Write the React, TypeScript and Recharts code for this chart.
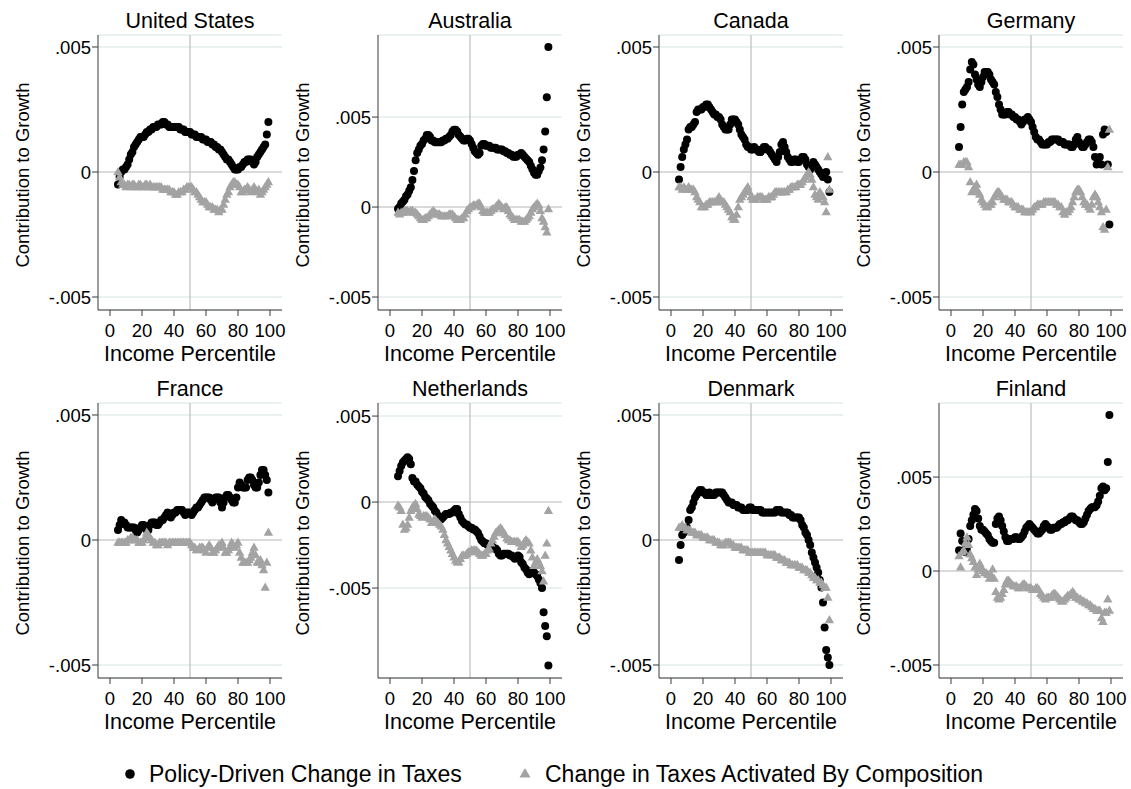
import React from 'react';
import { ScatterChart, Scatter, XAxis, YAxis, CartesianGrid, ReferenceLine } from 'recharts';

// Income percentiles (x values)
const percentiles = [
  5, 6, 7, 8, 9, 10, 11, 12, 13, 14, 15, 16, 17, 18, 19, 20, 21, 22, 23, 24,
  25, 26, 27, 28, 29, 30, 31, 32, 33, 34, 35, 36, 37, 38, 39, 40, 41, 42, 43, 44,
  45, 46, 47, 48, 49, 50, 51, 52, 53, 54, 55, 56, 57, 58, 59, 60, 61, 62, 63, 64,
  65, 66, 67, 68, 69, 70, 71, 72, 73, 74, 75, 76, 77, 78, 79, 80, 81, 82, 83, 84,
  85, 86, 87, 88, 89, 90, 91, 92, 93, 94, 95, 96, 97, 98, 99,
];

// All series values are in units of 0.0001 (contribution to growth)
const usPolicy = [
  -5, -2, 0, 1, 1, 2, 3, 5, 7, 8, 10, 11, 12, 13, 14, 14, 14, 15, 16, 16,
  17, 17, 18, 18, 18, 19, 19, 19, 20, 20, 19, 19, 18, 18, 18, 18, 18, 18, 18, 17,
  17, 17, 16, 16, 16, 16, 15, 15, 15, 14, 14, 14, 14, 13, 13, 13, 12, 12, 12, 11,
  11, 10, 10, 9, 9, 8, 7, 6, 5, 5, 4, 3, 2, 1, 1, 1, 2, 2, 3, 4,
  4, 5, 5, 5, 4, 3, 4, 6, 7, 8, 9, 10, 11, 15, 20,
];
const usComposition = [
  0, -2, -4, -5, -5, -6, -5, -5, -6, -5, -5, -6, -6, -5, -5, -6, -6, -5, -5, -6,
  -5, -6, -6, -6, -6, -6, -6, -6, -7, -7, -7, -7, -7, -8, -8, -8, -9, -9, -8, -8,
  -8, -7, -7, -6, -6, -6, -6, -7, -8, -8, -9, -10, -11, -12, -12, -12, -13, -14, -14, -14,
  -15, -15, -15, -16, -15, -15, -13, -11, -9, -8, -6, -5, -4, -4, -5, -5, -6, -8, -8, -7,
  -7, -6, -7, -8, -7, -6, -7, -8, -7, -9, -8, -7, -6, -5, -4,
];

const auPolicy = [
  -1, 0, 2, 3, 4, 6, 7, 9, 11, 15, 20, 26, 30, 32, 34, 35, 37, 38, 40, 40,
  39, 37, 37, 36, 36, 36, 36, 36, 37, 37, 38, 38, 39, 40, 42, 43, 43, 42, 40, 39,
  38, 37, 37, 38, 38, 37, 35, 33, 31, 30, 29, 30, 34, 35, 35, 34, 34, 34, 33, 33,
  33, 33, 32, 32, 32, 32, 31, 31, 30, 30, 29, 29, 28, 28, 28, 29, 29, 30, 29, 28,
  27, 26, 25, 23, 21, 19, 18, 18, 20, 22, 26, 32, 42, 61, 89,
];
const auComposition = [
  -3, -4, -3, -3, -2, -2, -2, -3, -2, -2, -3, -3, -4, -5, -6, -7, -7, -6, -6, -5,
  -4, -3, -2, -3, -4, -4, -4, -5, -5, -5, -5, -5, -4, -4, -4, -5, -6, -7, -7, -7,
  -6, -6, -4, -2, -1, 0, 0, 1, 1, 1, 2, 2, 0, -2, -3, -3, -3, -3, -2, -1,
  -1, 0, 1, 2, 1, 0, -1, 0, 0, -2, -4, -5, -6, -7, -7, -7, -7, -8, -8, -8,
  -7, -6, -5, -3, -1, 0, 1, 2, 1, -2, -6, -8, -11, -14, -1,
];

const caPolicy = [
  -3, 2, 6, 9, 11, 13, 17, 18, 18, 19, 20, 24, 25, 25, 25, 26, 26, 27, 27, 26,
  25, 24, 23, 23, 22, 22, 21, 19, 18, 17, 17, 17, 19, 21, 21, 21, 20, 19, 17, 15,
  14, 13, 11, 10, 10, 9, 9, 10, 9, 9, 8, 8, 9, 10, 10, 9, 9, 8, 7, 6,
  5, 4, 6, 8, 11, 12, 10, 8, 6, 5, 4, 4, 5, 5, 4, 4, 5, 6, 6, 5,
  3, 2, 1, 2, 4, 3, 2, 1, 0, -1, -2, -1, 0, -3, -8,
];
const caComposition = [
  -6, -6, -7, -6, -7, -7, -6, -7, -7, -7, -8, -10, -11, -12, -14, -14, -14, -13, -13, -12,
  -12, -12, -12, -12, -11, -10, -11, -12, -12, -13, -14, -15, -16, -18, -19, -19, -17, -14, -11, -10,
  -9, -8, -7, -6, -8, -10, -11, -11, -11, -10, -10, -10, -10, -11, -11, -11, -10, -10, -10, -9,
  -8, -8, -8, -8, -8, -8, -8, -8, -7, -7, -6, -6, -6, -6, -5, -5, -5, -4, -3, -2,
  -1, 0, -1, -3, -6, -9, -10, -11, -8, -9, -10, -12, -16, 6, -7,
];

const dePolicy = [
  10, 18, 27, 32, 33, 34, 36, 41, 44, 43, 39, 37, 35, 34, 36, 38, 40, 40, 40, 39,
  37, 36, 35, 32, 30, 27, 25, 23, 23, 23, 24, 24, 23, 23, 22, 22, 21, 21, 20, 19,
  20, 21, 21, 22, 21, 20, 18, 16, 14, 13, 13, 12, 11, 11, 11, 11, 12, 12, 13, 13,
  13, 13, 13, 12, 12, 12, 11, 11, 11, 11, 10, 10, 11, 13, 14, 12, 11, 10, 10, 11,
  12, 13, 13, 12, 10, 6, 3, 5, 6, 3, 15, 17, 16, 3, -21,
];
const deComposition = [
  3, 3, 3, 4, 4, 4, 2, -4, -8, -7, -6, -5, -8, -9, -11, -12, -13, -14, -14, -13,
  -13, -12, -10, -9, -8, -8, -9, -10, -11, -11, -11, -12, -12, -12, -13, -14, -14, -14, -15, -15,
  -15, -16, -16, -16, -16, -16, -15, -14, -14, -13, -13, -13, -13, -12, -12, -12, -12, -12, -12, -12,
  -12, -13, -13, -14, -14, -16, -17, -16, -16, -15, -14, -12, -10, -8, -7, -7, -8, -10, -12, -13,
  -13, -14, -15, -13, -10, -9, -10, -12, -14, -16, -22, -23, -15, 2, 17,
];

const frPolicy = [
  4, 6, 8, 7, 7, 6, 5, 5, 5, 5, 5, 4, 3, 4, 5, 6, 6, 5, 4, 4,
  6, 7, 7, 7, 6, 6, 7, 8, 8, 9, 10, 11, 10, 9, 10, 11, 11, 12, 12, 12,
  12, 11, 10, 11, 11, 11, 10, 11, 12, 13, 13, 14, 15, 16, 17, 17, 17, 17, 16, 15,
  16, 17, 17, 17, 15, 13, 15, 17, 18, 18, 17, 16, 15, 15, 17, 21, 23, 22, 21, 21,
  21, 24, 25, 25, 24, 22, 21, 21, 23, 26, 28, 28, 26, 24, 19,
];
const frComposition = [
  -1, -1, -1, -1, -1, -1, 0, 0, 1, 1, 0, 0, 0, -1, -1, -1, 0, 1, 3, 2,
  1, 0, -1, -1, -2, -2, -1, -1, -1, -1, -1, -2, -1, -1, -1, -1, -1, -1, -1, -1,
  -1, -1, -1, -1, -1, -1, -2, -3, -3, -4, -4, -3, -3, -3, -4, -5, -3, -2, -3, -5,
  -5, -4, -3, -2, -2, -1, -3, -5, -5, -4, -3, -1, -2, -3, -2, -1, -5, -7, -9, -9,
  -9, -9, -8, -7, -5, -3, -6, -9, -9, -8, -10, -12, -19, -9, 3,
];

const nlPolicy = [
  15, 18, 21, 23, 24, 25, 26, 25, 22, 14, 12, 12, 10, 9, 8, 6, 5, 3, 2, 1,
  -1, -2, -3, -5, -6, -8, -9, -10, -9, -8, -7, -7, -7, -6, -6, -5, -4, -4, -7, -9,
  -11, -12, -13, -13, -14, -15, -15, -16, -16, -17, -18, -20, -22, -23, -24, -24, -25, -25, -26, -26,
  -27, -27, -28, -30, -31, -31, -30, -30, -30, -30, -31, -31, -32, -33, -32, -31, -32, -35, -36, -38,
  -39, -41, -42, -41, -40, -41, -42, -43, -45, -47, -50, -64, -72, -78, -95,
];
const nlComposition = [
  -2, -3, -5, -13, -16, -15, -13, -9, -5, -3, -2, -1, -4, -7, -8, -9, -8, -8, -8, -9,
  -10, -12, -11, -10, -11, -12, -13, -14, -16, -19, -22, -24, -26, -28, -30, -32, -34, -35, -35, -33,
  -31, -31, -31, -30, -29, -29, -28, -28, -28, -28, -29, -30, -31, -31, -30, -30, -28, -27, -24, -22,
  -20, -18, -17, -16, -15, -16, -18, -19, -21, -22, -22, -23, -23, -23, -23, -23, -24, -26, -25, -23,
  -22, -23, -24, -28, -32, -37, -35, -33, -35, -37, -40, -46, -31, -24, -5,
];

const dkPolicy = [
  -8, -2, 2, 3, 4, 5, 8, 12, 13, 15, 17, 18, 19, 20, 20, 19, 19, 18, 18, 19,
  18, 18, 18, 19, 19, 19, 19, 19, 18, 17, 16, 15, 15, 15, 14, 14, 14, 13, 13, 13,
  12, 12, 12, 12, 13, 13, 12, 12, 12, 12, 12, 12, 11, 11, 11, 11, 11, 11, 11, 11,
  11, 12, 12, 12, 11, 11, 11, 11, 11, 10, 10, 9, 9, 9, 9, 9, 8, 6, 5, 3,
  2, 0, -2, -5, -7, -9, -11, -13, -16, -19, -25, -35, -44, -47, -50,
];
const dkComposition = [
  5, 5, 6, 5, 5, 4, 4, 4, 3, 3, 3, 2, 2, 2, 2, 1, 1, 1, 1, 0,
  0, 0, 0, -1, -1, -1, -2, -2, -2, -1, -1, -1, -1, -2, -2, -3, -3, -3, -3, -3,
  -4, -4, -4, -4, -5, -5, -5, -5, -5, -5, -5, -5, -5, -5, -5, -6, -6, -6, -6, -6,
  -6, -7, -7, -7, -8, -8, -8, -9, -9, -9, -10, -10, -10, -10, -10, -11, -11, -11, -12, -12,
  -12, -13, -13, -14, -15, -15, -16, -16, -17, -17, -18, -19, -19, -23, -32,
];

const fiPolicy = [
  11, 20, 16, 11, 10, 11, 17, 24, 27, 30, 33, 32, 28, 24, 22, 22, 21, 20, 19, 17,
  16, 15, 15, 25, 28, 29, 27, 24, 21, 18, 16, 16, 17, 17, 17, 18, 18, 17, 17, 18,
  19, 21, 23, 24, 25, 24, 23, 22, 21, 20, 20, 21, 22, 24, 25, 24, 23, 22, 22, 23,
  23, 23, 24, 25, 25, 26, 26, 27, 27, 28, 29, 29, 28, 27, 27, 26, 25, 25, 26, 28,
  30, 32, 33, 34, 34, 34, 35, 37, 40, 44, 45, 43, 44, 58, 83,
];
const fiComposition = [
  8, 2, 10, 11, 15, 18, 14, 9, 7, 5, 2, -2, 1, 4, 2, 0, -1, -1, -2, -4,
  -2, 1, -4, -11, -14, -15, -14, -12, -10, -7, -5, -5, -6, -7, -8, -8, -8, -9, -9, -8,
  -7, -7, -8, -9, -9, -9, -10, -10, -9, -9, -10, -12, -13, -14, -15, -14, -14, -14, -13, -12,
  -12, -13, -14, -15, -16, -16, -15, -14, -13, -13, -12, -11, -12, -14, -14, -15, -15, -16, -16, -17,
  -17, -18, -18, -19, -20, -20, -21, -21, -21, -25, -27, -22, -22, -15, -21,
];

const xTicks = [0, 20, 40, 60, 80, 100];
const yTicks = [-0.005, 0, 0.005];

const FONT = "'Liberation Sans', Arial, Helvetica, sans-serif";
const CHART_W = 290;
const CHART_H = 370;
const Y_AXIS_W = 98;
const PLOT_W = 184;
const PLOT_TOP = 35;
const PLOT_H = 275;

type Panel = {
  title: string;
  policy: number[];
  composition: number[];
  yDomain: [number, number];
  left: number;
  top: number;
};

const panels: Panel[] = [
  { title: 'United States', policy: usPolicy, composition: usComposition, yDomain: [-0.00552, 0.00548], left: 0, top: 0 },
  { title: 'Australia', policy: auPolicy, composition: auComposition, yDomain: [-0.00572, 0.00956], left: 280, top: 0 },
  { title: 'Canada', policy: caPolicy, composition: caComposition, yDomain: [-0.00552, 0.00548], left: 561, top: 0 },
  { title: 'Germany', policy: dePolicy, composition: deComposition, yDomain: [-0.00552, 0.00548], left: 841, top: 0 },
  { title: 'France', policy: frPolicy, composition: frComposition, yDomain: [-0.00552, 0.00548], left: 0, top: 368 },
  { title: 'Netherlands', policy: nlPolicy, composition: nlComposition, yDomain: [-0.01023, 0.00576], left: 280, top: 368 },
  { title: 'Denmark', policy: dkPolicy, composition: dkComposition, yDomain: [-0.00552, 0.00548], left: 561, top: 368 },
  { title: 'Finland', policy: fiPolicy, composition: fiComposition, yDomain: [-0.00569, 0.00894], left: 841, top: 368 },
];

const toPoints = (vals: number[]) => percentiles.map((p, i) => ({ x: p, y: vals[i] / 10000 }));

const fmtY = (v: number) => {
  if (v === 0) return '0';
  const s = String(Math.abs(v)).replace(/^0/, '');
  return (v < 0 ? '-' : '') + s;
};

const CircleShape = (props: any) => {
  const { cx, cy } = props;
  if (cx == null || cy == null) return null;
  return <circle cx={cx} cy={cy} r={4} fill="#000000" />;
};

const TriangleShape = (props: any) => {
  const { cx, cy } = props;
  if (cx == null || cy == null) return null;
  const h = 8.2;
  const w = 9.4;
  const pts = `${cx},${cy - h * 0.6} ${cx - w / 2},${cy + h * 0.4} ${cx + w / 2},${cy + h * 0.4}`;
  return <polygon points={pts} fill="#a3a3a3" />;
};

const tickStyle = { fill: '#000', fontSize: 18.5, fontFamily: FONT };

function PanelChart({ p }: { p: Panel }) {
  const plotLeft = p.left + Y_AXIS_W;
  const policyData = toPoints(p.policy);
  const compData = toPoints(p.composition);
  return (
    <>
      <div
        style={{
          position: 'absolute',
          left: plotLeft - 20,
          top: p.top + 9,
          width: PLOT_W + 40,
          textAlign: 'center',
          fontFamily: FONT,
          fontSize: 21.5,
          lineHeight: '24px',
          color: '#000',
          whiteSpace: 'nowrap',
        }}
      >
        {p.title}
      </div>
      <div
        style={{
          position: 'absolute',
          left: p.left + 23,
          top: p.top + PLOT_TOP + PLOT_H / 2 + 2,
          transform: 'translate(-50%, -50%) rotate(-90deg)',
          fontFamily: FONT,
          fontSize: 18.5,
          lineHeight: '20px',
          color: '#000',
          whiteSpace: 'nowrap',
        }}
      >
        Contribution to Growth
      </div>
      <div
        style={{
          position: 'absolute',
          left: plotLeft - 30,
          top: p.top + 345,
          width: PLOT_W + 60,
          textAlign: 'center',
          fontFamily: FONT,
          fontSize: 21.5,
          lineHeight: '19px',
          color: '#000',
          whiteSpace: 'nowrap',
        }}
      >
        Income Percentile
      </div>
      <div style={{ position: 'absolute', left: p.left, top: p.top }}>
        <ScatterChart
          width={CHART_W}
          height={CHART_H}
          margin={{ top: PLOT_TOP, right: CHART_W - Y_AXIS_W - PLOT_W, bottom: 0, left: 0 }}
        >
          <CartesianGrid vertical={false} stroke="#e3eded" strokeWidth={1.5} />
          <XAxis
            type="number"
            dataKey="x"
            domain={[-7.5, 107.5]}
            ticks={xTicks}
            interval={0}
            allowDataOverflow
            height={CHART_H - PLOT_TOP - PLOT_H}
            tick={tickStyle}
            tickSize={6}
            tickMargin={8}
            stroke="#3a3a3a"
          />
          <YAxis
            type="number"
            dataKey="y"
            domain={p.yDomain}
            ticks={yTicks}
            interval={0}
            allowDataOverflow
            width={Y_AXIS_W}
            tick={tickStyle}
            tickSize={6}
            tickMargin={1}
            tickFormatter={fmtY}
            stroke="#3a3a3a"
          />
          <ReferenceLine y={0} stroke="#d3d3d3" strokeWidth={1.5} />
          <ReferenceLine x={50} stroke="#cacaca" strokeWidth={1.5} />
          <Scatter data={policyData} shape={CircleShape} isAnimationActive={false} />
          <Scatter data={compData} shape={TriangleShape} isAnimationActive={false} />
        </ScatterChart>
      </div>
    </>
  );
}

function LegendRow() {
  const textStyle: React.CSSProperties = {
    position: 'absolute',
    top: 761,
    fontFamily: FONT,
    fontSize: 23,
    lineHeight: '26px',
    color: '#000',
    whiteSpace: 'nowrap',
  };
  return (
    <>
      <svg style={{ position: 'absolute', left: 122, top: 766 }} width={16} height={16}>
        <circle cx={8} cy={8} r={4.8} fill="#000" />
      </svg>
      <div style={{ ...textStyle, left: 149 }}>Policy-Driven Change in Taxes</div>
      <svg style={{ position: 'absolute', left: 517, top: 765 }} width={16} height={16}>
        <polygon points="8,3 2.5,12.5 13.5,12.5" fill="#a3a3a3" />
      </svg>
      <div style={{ ...textStyle, left: 545 }}>Change in Taxes Activated By Composition</div>
    </>
  );
}

export default function App() {
  return (
    <div
      style={{
        position: 'absolute',
        left: 0,
        top: 0,
        width: 1131,
        height: 789,
        background: '#ffffff',
        overflow: 'hidden',
      }}
    >
      {panels.map((p) => (
        <PanelChart key={p.title} p={p} />
      ))}
      <LegendRow />
    </div>
  );
}
